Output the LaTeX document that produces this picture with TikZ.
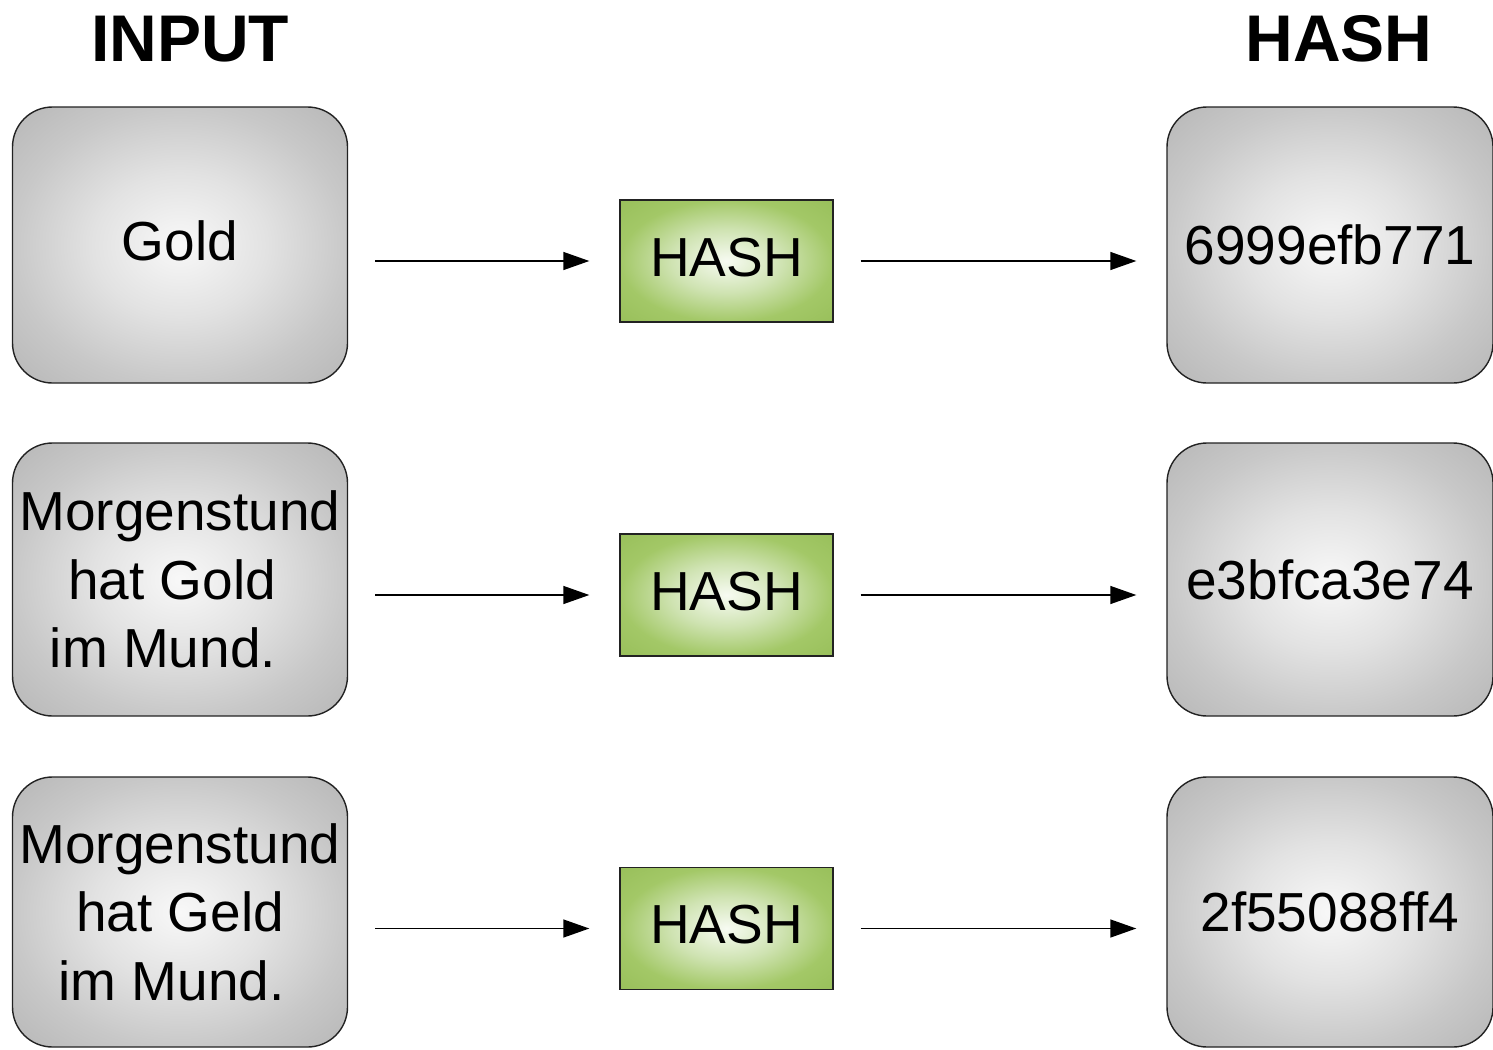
\documentclass[tikz,border=0pt]{standalone}
\usepackage{fontspec}
\setmainfont{Liberation Sans}
\usetikzlibrary{arrows.meta}

\definecolor{greycore}{HTML}{F8F8F8}
\definecolor{greymid}{HTML}{E2E2E2}
\definecolor{greyrim}{HTML}{C8C8C8}
\definecolor{greycorner}{HTML}{B6B6B6}
\definecolor{greencore}{HTML}{F7FBF2}
\definecolor{greenmid}{HTML}{CFE3B2}
\definecolor{greenrim}{HTML}{A3C867}
\definecolor{greencorner}{HTML}{98BF5A}
\definecolor{frame}{HTML}{222222}

\pgfdeclareradialshading{greyglow}{\pgfpoint{0bp}{0bp}}{%
  color(0bp)=(greycore); color(13bp)=(greymid); color(25bp)=(greyrim);
  color(36bp)=(greycorner); color(50bp)=(greycorner)}
\pgfdeclareradialshading{greenglow}{\pgfpoint{0bp}{0bp}}{%
  color(0bp)=(greencore); color(13bp)=(greenmid); color(25bp)=(greenrim);
  color(36bp)=(greencorner); color(50bp)=(greencorner)}

\tikzset{
  databox/.style={draw=frame, line width=1.4pt, rounded corners=40pt,
    shading=greyglow, align=center, inner sep=0pt,
    font=\fontsize{55}{68.5}\selectfont},
  hashbox/.style={draw=frame, line width=1.4pt, shading=greenglow,
    minimum width=213pt, minimum height=122pt, inner sep=0pt,
    text depth=8pt, font=\fontsize{55}{66}\selectfont},
  heading/.style={font=\fontsize{66}{70}\selectfont\bfseries, inner sep=0pt},
  flow/.style={line width=1.4pt, -{Triangle[length=26pt,width=18pt]},
    shorten <=27pt, shorten >=30pt}
}

\begin{document}
\begin{tikzpicture}[x=1pt, y=-1pt]
  \useasboundingbox (0,0) rectangle (1493,1049);

  % column headings
  \node[heading] (tin) at (190,39) {INPUT};
  \node[heading] (tout) at (1339,39) {HASH};

  % inputs
  \node[databox, text depth=8pt, minimum width=335pt, minimum height=276pt] (in1) at (180,245) {Gold};
  \node[databox, minimum width=335pt, minimum height=273pt] (in2) at (180,579.5)
    {Morgenstund\\hat Gold\makebox[16pt]{}\\im Mund.\makebox[34pt]{}};
  \node[databox, minimum width=335pt, minimum height=270pt] (in3) at (180,912)
    {Morgenstund\\hat Geld\\im Mund.\makebox[17pt]{}};

  % hash function
  \node[hashbox] (h1) at (726.5,261) {HASH};
  \node[hashbox] (h2) at (726.5,595) {HASH};
  \node[hashbox] (h3) at (726.5,928.5) {HASH};

  % digests
  \node[databox, minimum width=326pt, minimum height=276pt] (out1) at (1330,245) {6999efb771};
  \node[databox, minimum width=326pt, minimum height=273pt] (out2) at (1330,579.5) {e3bfca3e74};
  \node[databox, minimum width=326pt, minimum height=270pt] (out3) at (1330,912) {2f55088ff4};

  % connectors
  \foreach \i in {1,2,3} {
    \draw[flow] (in\i.east |- h\i.west) -- (h\i.west);
    \draw[flow] (h\i.east) -- (out\i.west |- h\i.east);
  }
\end{tikzpicture}
\end{document}
